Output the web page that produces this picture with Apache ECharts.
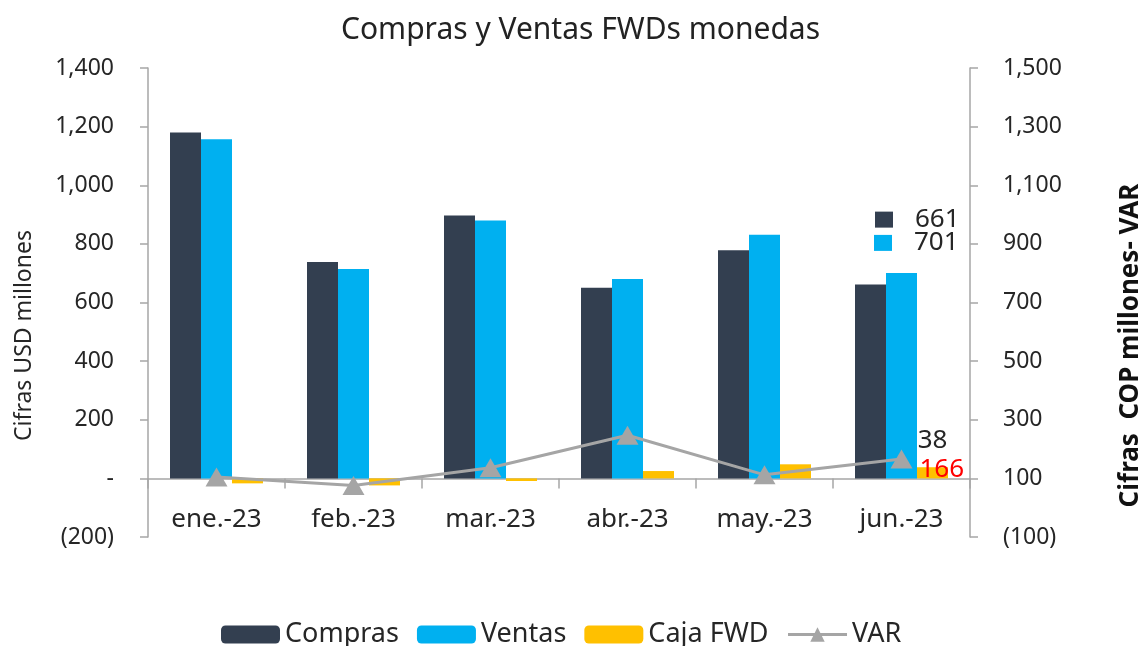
<!DOCTYPE html>
<html>
<head>
<meta charset="utf-8">
<title>Compras y Ventas FWDs monedas</title>
<script src="https://cdn.jsdelivr.net/npm/echarts@6/dist/echarts.min.js"></script>
<style>
  html, body { margin: 0; padding: 0; background: #fff; }
  .view01 { width: 1143px; height: 646px; }
</style>
</head>
<body>
<div class="view01"></div>
<script>
// datos
const categorias = ['ene.-23', 'feb.-23', 'mar.-23', 'abr.-23', 'may.-23', 'jun.-23'];
const compras = [1180, 738, 897, 650, 778, 661];
const ventas = [1157, 714, 880, 680, 831, 701];
const cajaFwd = [-17, -24, -9, 25, 48, 38];
const varCop = [105, 76, 136, 247, 112, 166];
const ticksDerecha = [-100, 100, 300, 500, 700, 900, 1100, 1300, 1500];

window.onload = function () {
  echart01();

  function fmt(v) {
    if (v === 0) return '-';
    if (v < 0) return '(' + Math.abs(v).toLocaleString('en-US') + ')';
    return v.toLocaleString('en-US');
  }

  function echart01() {
    // 1、初始化
    let view1 = document.querySelector('.view01');
    let chart1 = echarts.init(view1);
    let ult = categorias.length - 1;
    let font = 'Noto Sans';
    let txt = '#262626';
    let eje = '#A6A6A6';

    // etiqueta con cuadrito de color (661 / 701)
    function etiqCuadro(color, pos) {
      return {
        show: true,
        position: pos,
        align: 'left',
        verticalAlign: 'middle',
        formatter: '{sq| }{gap| }{v|{c}}',
        rich: {
          sq: { width: 18, height: 16, backgroundColor: color },
          gap: { width: 22 },
          v: { fontFamily: font, fontSize: 26, color: txt }
        }
      };
    }

    // 2、参数
    let option1 = {
      animation: false,
      textStyle: { fontFamily: font },
      title: {
        text: 'Compras y Ventas FWDs monedas',
        left: 336,
        top: 10,
        textStyle: { fontFamily: font, fontSize: 30, fontWeight: 'normal', color: '#222' }
      },
      legend: {
        left: 216,
        top: 616,
        itemWidth: 59,
        itemHeight: 18,
        itemGap: 18,
        textStyle: { fontFamily: font, fontSize: 27, color: txt },
        data: ['Compras', 'Ventas', 'Caja FWD', { name: 'VAR', lineStyle: { width: 3 } }]
      },
      grid: { left: 148, right: 173, top: 68, bottom: 109, outerBoundsMode: 'none' },
      xAxis: {
        type: 'category',
        data: categorias,
        axisLine: { onZero: true, lineStyle: { color: eje, width: 1.5 } },
        axisTick: { show: true, length: 10, lineStyle: { color: eje, width: 1.5 } },
        axisLabel: { margin: -30, fontFamily: font, fontSize: 26, color: txt }
      },
      yAxis: [
        {
          type: 'value',
          min: -200,
          max: 1400,
          interval: 200,
          name: 'Cifras USD millones',
          nameLocation: 'middle',
          nameRotate: 90,
          nameGap: 112,
          nameTextStyle: { fontFamily: font, fontSize: 23, color: txt, padding: [0, 66, 0, 0] },
          axisLine: { show: true, lineStyle: { color: eje, width: 1.5 } },
          axisTick: { show: true, length: 8, lineStyle: { color: eje, width: 1.5 } },
          splitLine: { show: false },
          axisLabel: { margin: 34, fontFamily: font, fontSize: 23, color: txt, formatter: fmt }
        },
        {
          type: 'value',
          min: -100,
          max: 1500,
          position: 'right',
          name: 'Cifras  COP millones- VAR',
          nameLocation: 'middle',
          nameRotate: 90,
          nameGap: 148,
          nameTextStyle: { fontFamily: font, fontSize: 26, fontWeight: 'bold', color: '#111', padding: [0, 86, 0, 0] },
          axisLine: { show: true, lineStyle: { color: eje, width: 1.5 } },
          axisTick: { show: true, length: 8, customValues: ticksDerecha, lineStyle: { color: eje, width: 1.5 } },
          splitLine: { show: false },
          axisLabel: { margin: 33, fontFamily: font, fontSize: 23, color: txt, customValues: ticksDerecha, formatter: fmt }
        }
      ],
      series: [
        {
          name: 'Compras',
          type: 'bar',
          barWidth: 31,
          barGap: '0%',
          itemStyle: { color: '#333F50' },
          data: compras.map(function (v, i) {
            return i === ult ? { value: v, label: etiqCuadro('#333F50', [20, -65]) } : v;
          })
        },
        {
          name: 'Ventas',
          type: 'bar',
          barWidth: 31,
          barGap: '0%',
          itemStyle: { color: '#00B0F0' },
          data: ventas.map(function (v, i) {
            return i === ult ? { value: v, label: etiqCuadro('#00B0F0', [-12, -30]) } : v;
          })
        },
        {
          name: 'Caja FWD',
          type: 'bar',
          barWidth: 31,
          barGap: '0%',
          itemStyle: { color: '#FFC000' },
          data: cajaFwd.map(function (v, i) {
            return i === ult ? {
              value: v,
              label: { show: true, position: 'top', distance: 14, fontFamily: font, fontSize: 26, color: txt }
            } : v;
          })
        },
        {
          name: 'VAR',
          type: 'line',
          yAxisIndex: 1,
          symbol: 'triangle',
          symbolSize: [22, 19],
          z: 5,
          lineStyle: { color: '#A5A5A5', width: 3 },
          itemStyle: { color: '#A5A5A5' },
          data: varCop.map(function (v, i) {
            return i === ult ? {
              value: v,
              label: { show: true, position: 'right', distance: 7, offset: [0, 11], fontFamily: font, fontSize: 26, color: '#FF0000' }
            } : v;
          })
        }
      ]
    };
    // 3、设置参数
    chart1.setOption(option1);
  }
};
</script>
</body>
</html>
